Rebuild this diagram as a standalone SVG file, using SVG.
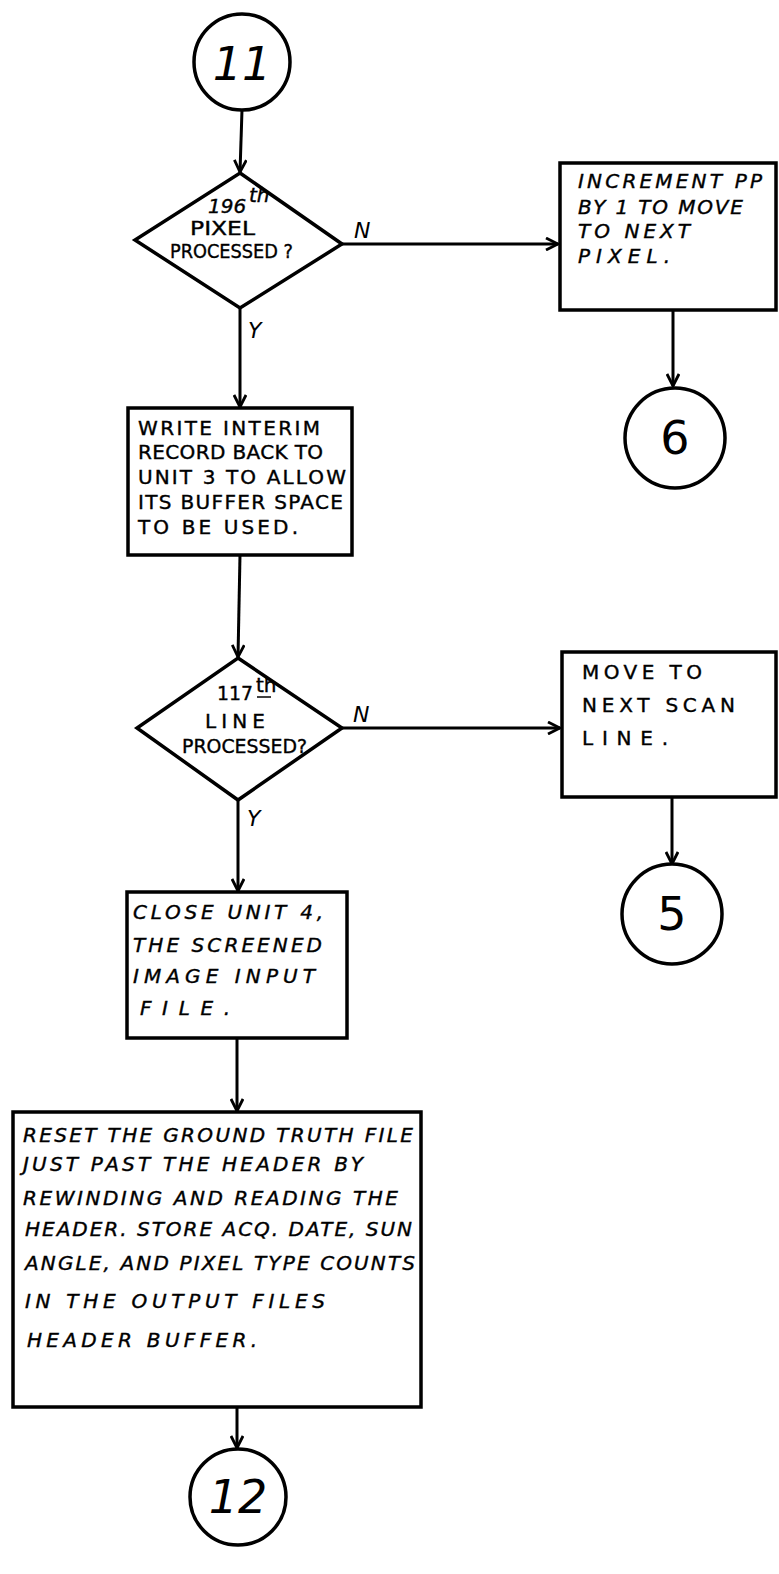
<svg xmlns="http://www.w3.org/2000/svg" width="779" height="1574" viewBox="0 0 779 1574">
<style>
.shape{fill:#fff;stroke:#000;stroke-width:3.5}
.conn{fill:none;stroke:#000;stroke-width:3}
.t{font-family:"DejaVu Sans","Liberation Sans",sans-serif;font-size:20px;fill:#000;stroke:#000;stroke-width:0.4}
.ti{font-family:"DejaVu Sans","Liberation Sans",sans-serif;font-size:20px;font-style:italic;fill:#000;stroke:#000;stroke-width:0.4}
.lbl{font-family:"DejaVu Sans","Liberation Sans",sans-serif;font-size:22px;font-style:italic;fill:#000}
.big{font-family:"DejaVu Sans","Liberation Sans",sans-serif;font-size:46px;fill:#000;text-anchor:middle}
</style>
<defs>
<marker id="arr" viewBox="0 0 14 14" refX="13" refY="7" markerWidth="14" markerHeight="14" markerUnits="userSpaceOnUse" orient="auto">
<path d="M1,1 L13,7 L1,13" fill="none" stroke="#000" stroke-width="2.8"/>
</marker>
</defs>
<rect width="779" height="1574" fill="#fff"/>
<g id="connectors">
<line class="conn" x1="242" y1="110" x2="240" y2="172" marker-end="url(#arr)"/>
<line class="conn" x1="342" y1="244" x2="558" y2="244" marker-end="url(#arr)"/>
<line class="conn" x1="673" y1="310" x2="673" y2="386" marker-end="url(#arr)"/>
<line class="conn" x1="240" y1="308" x2="240" y2="407" marker-end="url(#arr)"/>
<line class="conn" x1="240" y1="555" x2="238" y2="657" marker-end="url(#arr)"/>
<line class="conn" x1="342" y1="728" x2="560" y2="728" marker-end="url(#arr)"/>
<line class="conn" x1="672" y1="797" x2="672" y2="864" marker-end="url(#arr)"/>
<line class="conn" x1="238" y1="800" x2="238" y2="891" marker-end="url(#arr)"/>
<line class="conn" x1="237" y1="1038" x2="237" y2="1111" marker-end="url(#arr)"/>
<line class="conn" x1="237" y1="1407" x2="237" y2="1448" marker-end="url(#arr)"/>
<text class="lbl" x="354" y="238">N</text>
<text class="lbl" x="248" y="338">Y</text>
<text class="lbl" x="353" y="722">N</text>
<text class="lbl" x="247" y="826">Y</text>
</g>
<g id="c11">
<circle class="shape" cx="242" cy="62" r="48"/>
<text class="big" x="242" y="80" font-style="italic">11</text>
</g>
<g id="d1">
<polygon class="shape" points="240,173 342,244 240,308 135,240"/>
<text class="ti" x="208" y="213" font-size="16">196</text>
<text class="ti" x="249" y="202" font-size="12">th</text>
<text class="t" x="190" y="235" font-size="14" textLength="65" lengthAdjust="spacingAndGlyphs">PIXEL</text>
<text class="t" x="170" y="258" font-size="14" textLength="123" lengthAdjust="spacingAndGlyphs">PROCESSED ?</text>
</g>
<g id="b1">
<rect class="shape" x="560" y="163" width="216" height="147"/>
<text class="ti" x="578" y="188" font-size="18" textLength="184" lengthAdjust="spacing">INCREMENT PP</text>
<text class="ti" x="578" y="214" font-size="18" textLength="165" lengthAdjust="spacing">BY 1 TO MOVE</text>
<text class="ti" x="578" y="238" font-size="18" textLength="112" lengthAdjust="spacing">TO NEXT</text>
<text class="ti" x="578" y="263" font-size="18" textLength="92" lengthAdjust="spacing">PIXEL.</text>
</g>
<g id="c6">
<circle class="shape" cx="675" cy="438" r="50"/>
<text class="big" x="675" y="454">6</text>
</g>
<g id="b2">
<rect class="shape" x="128" y="408" width="224" height="147"/>
<text class="t" x="138" y="435" textLength="182" lengthAdjust="spacing">WRITE INTERIM</text>
<text class="t" x="138" y="459" textLength="185" lengthAdjust="spacing">RECORD BACK TO</text>
<text class="t" x="138" y="484" textLength="208" lengthAdjust="spacing">UNIT 3 TO ALLOW</text>
<text class="t" x="138" y="509" textLength="205" lengthAdjust="spacing">ITS BUFFER SPACE</text>
<text class="t" x="138" y="534" textLength="160" lengthAdjust="spacing">TO BE USED.</text>
</g>
<g id="d2">
<polygon class="shape" points="238,658 342,728 238,800 137,728"/>
<text class="t" x="217" y="700" font-size="20" textLength="36" lengthAdjust="spacingAndGlyphs">117</text>
<text class="t" x="256" y="692" font-size="13">th</text>
<line x1="257" y1="697" x2="271" y2="697" stroke="#000" stroke-width="1.5"/>
<text class="t" x="205" y="728" font-size="16" textLength="60" lengthAdjust="spacing">LINE</text>
<text class="t" x="182" y="753" font-size="16" textLength="125" lengthAdjust="spacingAndGlyphs">PROCESSED?</text>
</g>
<g id="b3">
<rect class="shape" x="562" y="652" width="214" height="145"/>
<text class="t" x="582" y="679" textLength="120" lengthAdjust="spacing">MOVE TO</text>
<text class="t" x="582" y="712" textLength="153" lengthAdjust="spacing">NEXT SCAN</text>
<text class="t" x="582" y="745" textLength="86" lengthAdjust="spacing">LINE.</text>
</g>
<g id="c5">
<circle class="shape" cx="672" cy="914" r="50"/>
<text class="big" x="672" y="930">5</text>
</g>
<g id="b4">
<rect class="shape" x="127" y="892" width="220" height="146"/>
<text class="ti" x="133" y="919" textLength="190" lengthAdjust="spacing">CLOSE UNIT 4,</text>
<text class="ti" x="133" y="952" textLength="189" lengthAdjust="spacing">THE SCREENED</text>
<text class="ti" x="133" y="983" textLength="182" lengthAdjust="spacing">IMAGE INPUT</text>
<text class="ti" x="140" y="1015" textLength="90" lengthAdjust="spacing">FILE.</text>
</g>
<g id="b5">
<rect class="shape" x="13" y="1112" width="408" height="295"/>
<text class="ti" x="23" y="1142" textLength="390" lengthAdjust="spacing">RESET THE GROUND TRUTH FILE</text>
<text class="ti" x="23" y="1171" textLength="340" lengthAdjust="spacing">JUST PAST THE HEADER BY</text>
<text class="ti" x="23" y="1205" textLength="375" lengthAdjust="spacing">REWINDING AND READING THE</text>
<text class="ti" x="25" y="1236" textLength="387" lengthAdjust="spacing">HEADER. STORE ACQ. DATE, SUN</text>
<text class="ti" x="25" y="1270" textLength="390" lengthAdjust="spacing">ANGLE, AND PIXEL TYPE COUNTS</text>
<text class="ti" x="25" y="1308" textLength="300" lengthAdjust="spacing">IN THE OUTPUT FILES</text>
<text class="ti" x="27" y="1347" textLength="230" lengthAdjust="spacing">HEADER BUFFER.</text>
</g>
<g id="c12">
<circle class="shape" cx="238" cy="1497" r="48"/>
<text class="big" x="238" y="1513" font-style="italic">12</text>
</g>
</svg>
